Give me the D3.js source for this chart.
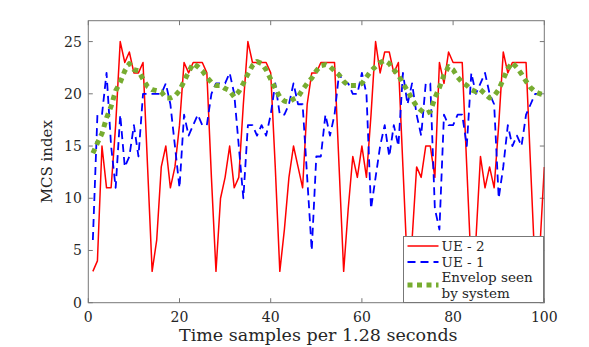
<!DOCTYPE html>
<html>
<head>
<meta charset="utf-8">
<script src="https://cdn.jsdelivr.net/npm/d3@7"></script>
<style>
  body { margin: 0; background: #fff; }
  svg { display: block; }
  text { font-family: "DejaVu Serif", serif; fill: #262626; }
</style>
</head>
<body>
<div id="chart"></div>
<script>
// samples 1..100
const samples = d3.range(1, 101)

const ue2 = [3, 4, 15, 11, 11, 17, 25, 23, 24, 22, 22, 23, 13, 3,
  6, 13, 15, 11, 13, 17, 23, 22, 23, 23, 23, 22, 12, 3,
  10, 12, 15, 11, 12, 19, 25, 23, 23, 23, 23, 22, 13, 3,
  7, 12, 15, 13, 11, 19, 22, 22, 23, 23, 23, 23, 13, 3,
  9, 14, 12, 15, 12, 18, 25, 22, 24, 24, 22, 23, 13, 3,
  6, 13, 12, 15, 15, 12, 23, 21, 24, 23, 23, 23, 13, 3,
  6, 14, 11, 13, 11, 17, 24, 22, 23, 23, 23, 23, 13, 3,
  5, 13]

const ue1 = [6, 18, 18, 22, 15, 11, 18, 13, 14, 17, 14, 20, 20, 20,
  20, 20, 21, 19, 15, 11, 18, 16, 17, 18, 17, 17, 20, 21,
  21, 21, 22, 20, 15, 10, 17, 17, 16, 17, 16, 18, 21, 18,
  18, 19, 21, 19, 19, 12, 5, 14, 14, 18, 16, 18, 22, 21,
  21, 20, 20, 22, 20, 9, 12, 15, 17, 14, 17, 15, 22, 19,
  21, 18, 16, 21, 21, 9, 7, 18, 17, 17, 18, 18, 15, 22,
  20, 21, 22, 20, 19, 10, 13, 17, 15, 16, 15, 18, 19, 20,
  20, 20]

const envelope = [14.3, 15.3, 16.2, 17.7, 18.8, 20.3, 21.1, 22.2, 22.9, 22.3, 22.2, 21.4, 20.7, 20.4,
  20.3, 20.2, 19.6, 19.6, 19.8, 20.3, 21.2, 22.1, 22.9, 22.6, 22.2, 21.6, 21.1, 20.8,
  20.8, 20.5, 20.3, 19.7, 20.2, 21.0, 21.9, 22.7, 23.1, 22.9, 22.3, 21.4, 20.5, 19.7,
  19.3, 19.2, 19.5, 19.7, 20.4, 21.0, 21.5, 22.2, 22.7, 22.8, 22.6, 22.2, 21.8, 21.2,
  20.8, 20.8, 20.8, 21.0, 21.6, 22.2, 22.6, 23.0, 23.2, 22.9, 22.3, 21.8, 21.0, 20.3,
  19.5, 18.8, 18.4, 18.1, 18.3, 19.6, 20.6, 21.8, 22.6, 22.3, 21.6, 21.1, 20.8, 20.4,
  20.2, 20.4, 20.0, 19.6, 19.8, 20.4, 21.4, 22.4, 23.0, 22.5, 21.9, 21.2, 20.6, 20.2,
  20.0, 19.9]

const xTicks = [0, 20, 40, 60, 80, 100]
const yTicks = [0, 5, 10, 15, 20, 25]

const series = [
  {name: ["UE - 2"], values: ue2, color: "#ff0000", width: 1.5, dash: null},
  {name: ["UE - 1"], values: ue1, color: "#0000ff", width: 1.8, dash: "8,5"},
  {name: ["Envelop seen", "by system"], values: envelope, color: "#77ac30", width: 5, dash: "5,4.5"}
]

const width = 589
const height = 347
const margin = {top: 20.7, right: 44.7, bottom: 44.3, left: 88.3}

const svg = d3.select("#chart").append("svg")
  .attr("width", width)
  .attr("height", height)

const xScale = d3.scaleLinear().domain([0, 100]).range([margin.left, width - margin.right])
const yScale = d3.scaleLinear().domain([0, 27]).range([height - margin.bottom, margin.top])

const x0 = xScale(0), x1 = xScale(100), y0 = yScale(0), y1 = yScale(27)
const tickLen = 4.5

const axisG = svg.append("g").attr("class", "axes")

// ticks inside the box, on all four sides
xTicks.forEach(t => {
  axisG.append("line").attr("x1", xScale(t)).attr("x2", xScale(t))
    .attr("y1", y0).attr("y2", y0 - tickLen)
  axisG.append("line").attr("x1", xScale(t)).attr("x2", xScale(t))
    .attr("y1", y1).attr("y2", y1 + tickLen)
})
yTicks.forEach(t => {
  axisG.append("line").attr("x1", x0).attr("x2", x0 + tickLen)
    .attr("y1", yScale(t)).attr("y2", yScale(t))
  axisG.append("line").attr("x1", x1).attr("x2", x1 - tickLen)
    .attr("y1", yScale(t)).attr("y2", yScale(t))
})
axisG.selectAll("line").attr("stroke", "#777").attr("stroke-width", 1)

// tick labels
svg.append("g").selectAll("text")
  .data(xTicks)
  .enter()
  .append("text")
  .attr("x", d => xScale(d))
  .attr("y", y0 + 19)
  .attr("text-anchor", "middle")
  .style("font-size", "14px")
  .text(d => d)

svg.append("g").selectAll("text")
  .data(yTicks)
  .enter()
  .append("text")
  .attr("x", x0 - 6.5)
  .attr("y", d => yScale(d) + 5)
  .attr("text-anchor", "end")
  .style("font-size", "14px")
  .text(d => d)

// axis titles
svg.append("text")
  .attr("x", (x0 + x1) / 2 + 2)
  .attr("y", 341)
  .attr("text-anchor", "middle")
  .style("font-size", "17.5px")
  .text("Time samples per 1.28 seconds")

svg.append("text")
  .attr("transform", `translate(52, ${(y0 + y1) / 2}) rotate(-90)`)
  .attr("text-anchor", "middle")
  .style("font-size", "15px")
  .text("MCS index")

// lines
const plot = svg.append("g")
const line = d3.line()
  .x((d, i) => xScale(samples[i]))
  .y(d => yScale(d))

plot.selectAll(".series")
  .data(series)
  .enter()
  .append("path")
  .attr("class", "series")
  .attr("d", d => line(d.values))
  .attr("fill", "none")
  .attr("stroke", d => d.color)
  .attr("stroke-width", d => d.width)
  .attr("stroke-dasharray", d => d.dash)
  .attr("stroke-linejoin", "round")

// box
svg.append("rect")
  .attr("x", x0).attr("y", y1)
  .attr("width", x1 - x0).attr("height", y0 - y1)
  .attr("fill", "none")
  .attr("stroke", "#777")
  .attr("stroke-width", 1)

// legend
const legend = svg.append("g").attr("transform", "translate(403.5, 236.5)")
legend.append("rect")
  .attr("width", 140).attr("height", 66)
  .attr("fill", "#fff")
  .attr("stroke", "#777")
  .attr("stroke-width", 1)

const rowY = [9.5, 25.5, 48.5]
series.forEach((s, i) => {
  legend.append("line")
    .attr("x1", 4).attr("x2", 35)
    .attr("y1", rowY[i]).attr("y2", rowY[i])
    .attr("stroke", s.color)
    .attr("stroke-width", s.width)
    .attr("stroke-dasharray", s.dash)
  const txt = legend.append("text")
    .attr("x", 38)
    .attr("y", s.name.length > 1 ? rowY[i] - 8 + 4.5 : rowY[i] + 4.5)
    .style("font-size", "13.5px")
  s.name.forEach((n, j) => {
    txt.append("tspan").attr("x", 38).attr("dy", j === 0 ? 0 : 16).text(n)
  })
})
</script>
</body>
</html>
